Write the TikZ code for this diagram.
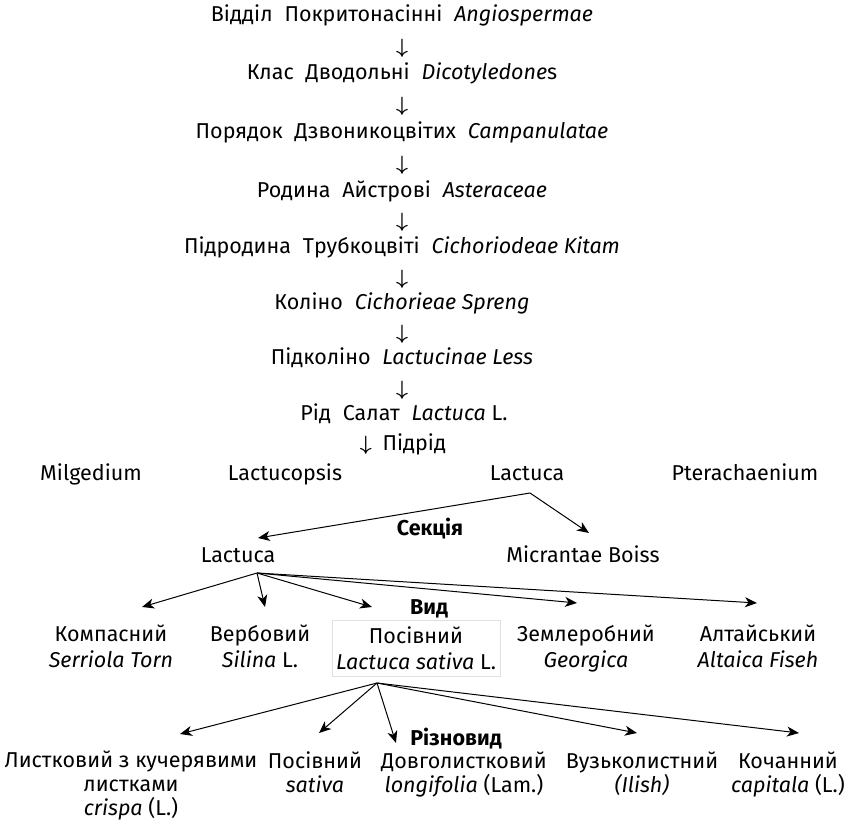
\documentclass[tikz,border=0pt]{standalone}
\usepackage{fontspec}
\setmainfont{Fira Sans}
\usetikzlibrary{arrows.meta}
\newcommand\gp{\hspace{0.55em}}
\newcommand\dar{{\fontsize{20}{24}\selectfont\boldmath$\downarrow$}}
\begin{document}
\begin{tikzpicture}[x=1pt,y=-1pt,
  txt/.style={inner sep=0pt, anchor=base, align=center, font=\fontsize{21.5}{26}\selectfont},
  vtxt/.style={inner sep=0pt, anchor=base, align=center, font=\fontsize{21.5}{24}\selectfont},
  lbl/.style={inner sep=0pt, anchor=base, font=\fontsize{21.5}{24}\selectfont\bfseries},
  dn/.style={inner sep=0pt, anchor=center},
  sbox/.style={draw=black!12, line width=0.8pt, minimum width=168pt, minimum height=56pt, inner sep=0pt, align=center, font=\fontsize{21.5}{26}\selectfont},
  arr/.style={-{Stealth[length=12pt,width=10pt,inset=3.5pt]}, line width=1pt}]
\useasboundingbox (0,0) rectangle (855,832);
% main chain
\node[txt] (r1) at (402,22) {Відділ\gp Покритонасінні\gp\textit{Angiospermae}};
\node[dn] (a1) at (402,48) {\dar};
\node[txt] (r2) at (402,80) {Клас\gp Дводольні\gp\textit{Dicotyledone}s};
\node[dn] (a2) at (402,106) {\dar};
\node[txt] (r3) at (402,139) {Порядок\gp Дзвоникоцвітих\gp\textit{Campanulatae}};
\node[dn] (a3) at (402,165) {\dar};
\node[txt] (r4) at (402,197) {Родина\gp Айстрові\gp\textit{Asteraceae}};
\node[dn] (a4) at (402,222) {\dar};
\node[txt] (r5) at (402,254) {Підродина\gp Трубкоцвіті\gp\textit{Cichoriodeae Kitam}};
\node[dn] (a5) at (402,279) {\dar};
\node[txt] (r6) at (402,309) {Коліно\gp\textit{Cichorieae Spreng}};
\node[dn] (a6) at (402,334) {\dar};
\node[txt] (r7) at (402,364) {Підколіно\gp\textit{Lactucinae Less}};
\node[dn] (a7) at (402,390) {\dar};
\node[txt] (r8) at (404,420) {Рід\gp Салат\gp\textit{Lactuca} L.};
\node[txt] (sub) at (403,450) {\dar\hspace{0.5em}Підрід};
% subgenera
\node[txt] (gMil) at (91,480) {Milgedium};
\node[txt] (gLcp) at (285,480) {Lactucopsis};
\node[txt] (gLac) at (527,480) {Lactuca};
\node[txt] (gPte) at (745,480) {Pterachaenium};
% sections
\node[lbl] (lSec) at (430,535) {Секція};
\node[txt] (sLac) at (238,562) {Lactuca};
\node[txt] (sMic) at (583,562) {Micrantae Boiss};
\coordinate (gA) at (530,493);
\coordinate (tSL) at (258,538);
\coordinate (tSM) at (589,533);
\draw[arr] (gA) -- (tSL);
\draw[arr] (gA) -- (tSM);
% species
\node[lbl] (lVyd) at (429,614) {Вид};
\node[txt] (spK) at (111,667) {Компасний\\\textit{Serriola Torn}};
\node[txt] (spV) at (260,667) {Вербовий\\\textit{Silina} L.};
\node[sbox] (spP) at (416,648) {Посівний\\\textit{Lactuca sativa} L.};
\node[txt] (spZ) at (586,667) {Землеробний\\\textit{Georgica}};
\node[txt] (spA) at (758,667) {Алтайський\\\textit{Altaica Fiseh}};
\coordinate (sA) at (257,573);
\coordinate (tK) at (142,607);
\coordinate (tV) at (265,607);
\coordinate (tP) at (372,607);
\coordinate (tZ) at (577,603);
\coordinate (tA) at (757,603);
\foreach \t in {tK,tV,tP,tZ,tA} \draw[arr] (sA) -- (\t);
% varieties
\node[lbl] (lRiz) at (456,745) {Різновид};
\node[vtxt] (vL) at (131,815) {Листковий з кучерявими\\листками\\\textit{crispa} (L.)};
\node[vtxt] (vP) at (315,792) {Посівний\\\textit{sativa}};
\node[vtxt] (vD) at (464,792) {Довголистковий\\\textit{longifolia} (Lam.)};
\node[vtxt] (vV) at (642,792) {Вузьколистний\\\textit{(Ilish)}};
\node[vtxt] (vK) at (788,792) {Кочанний\\\textit{capitala} (L.)};
\coordinate (vA) at (377,683);
\coordinate (tvL) at (180,734);
\coordinate (tvP) at (319,733);
\coordinate (tvD) at (396,743);
\coordinate (tvV) at (637,733);
\coordinate (tvK) at (799,733);
\foreach \t in {tvL,tvP,tvD,tvV,tvK} \draw[arr] (vA) -- (\t);
\end{tikzpicture}
\end{document}
